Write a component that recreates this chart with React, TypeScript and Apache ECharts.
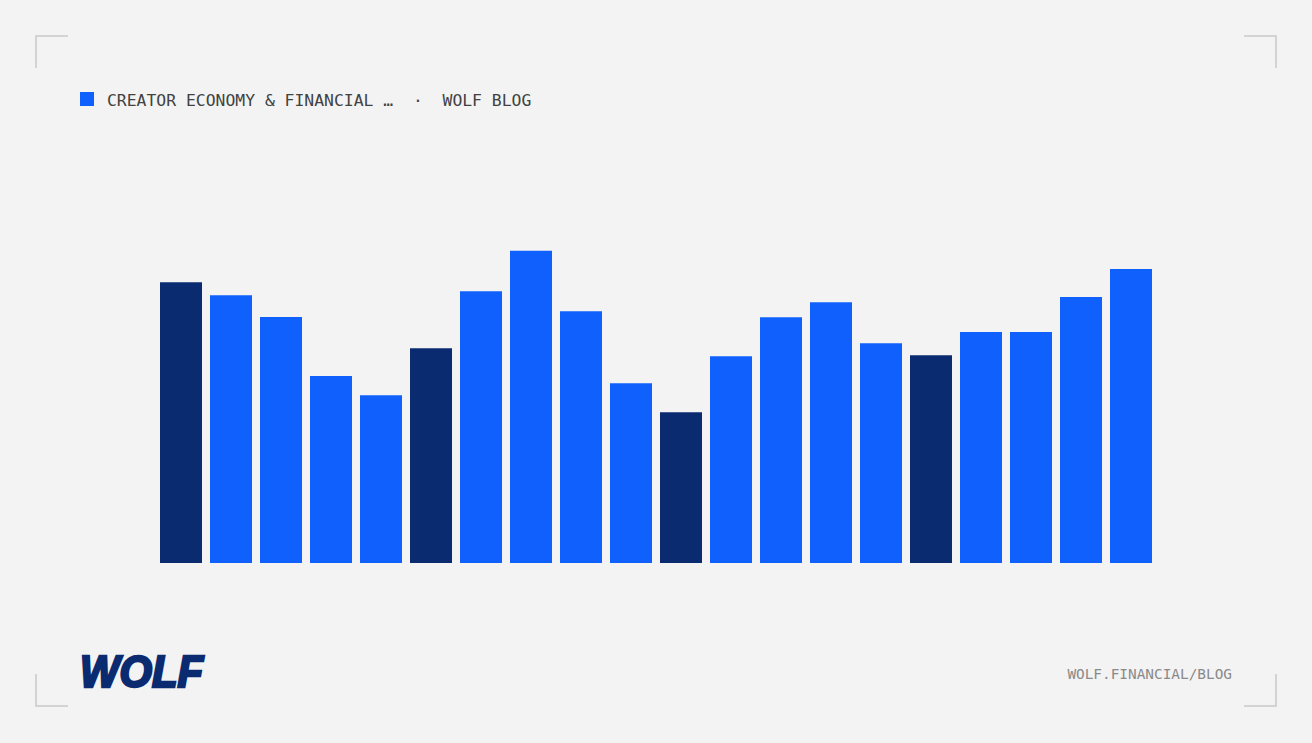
import React, { useEffect, useRef } from "react";
import * as echarts from "echarts";

const categories = [
  "1", "2", "3", "4", "5", "6", "7", "8", "9", "10",
  "11", "12", "13", "14", "15", "16", "17", "18", "19", "20",
];
const values = [
  87.7, 83.7, 76.9, 58.4, 52.4, 67.1, 84.9, 97.6, 78.7, 56.2,
  47.1, 64.6, 76.8, 81.5, 68.7, 64.9, 72.2, 72.2, 83.1, 91.9,
];
const highlighted = [0, 5, 10, 15];
const headerText = "CREATOR ECONOMY & FINANCIAL …  ·  WOLF BLOG";
const footerText = "WOLF.FINANCIAL/BLOG";
const logoText = "WOLF";

const BLUE = "#1060fe";
const NAVY = "#0b2b70";
const BG = "#f3f3f3";
const CORNER = "#d3d3d3";

export default function App() {
  const ref = useRef<HTMLDivElement>(null);
  useEffect(() => {
    if (!ref.current) return;
    const chart = echarts.init(ref.current, undefined, { renderer: "svg" });
    const mono = "'DejaVu Sans Mono', 'Liberation Mono', monospace";
    chart.setOption({
      animation: false,
      backgroundColor: BG,
      grid: { left: 156, right: 156, top: 243, bottom: 180 },
      xAxis: {
        type: "category",
        data: categories,
        show: false,
      },
      yAxis: {
        type: "value",
        min: 0,
        max: 100,
        show: false,
        splitLine: { show: false },
      },
      series: [
        {
          type: "bar",
          barWidth: 42,
          data: values.map((v, i) => ({
            value: v,
            itemStyle: { color: highlighted.includes(i) ? NAVY : BLUE },
          })),
        },
      ],
      graphic: [
        { type: "polyline", shape: { points: [[36, 68], [36, 36], [68, 36]] }, style: { stroke: CORNER, lineWidth: 2, fill: null } },
        { type: "polyline", shape: { points: [[1244, 36], [1276, 36], [1276, 68]] }, style: { stroke: CORNER, lineWidth: 2, fill: null } },
        { type: "polyline", shape: { points: [[36, 674], [36, 706], [68, 706]] }, style: { stroke: CORNER, lineWidth: 2, fill: null } },
        { type: "polyline", shape: { points: [[1244, 706], [1276, 706], [1276, 674]] }, style: { stroke: CORNER, lineWidth: 2, fill: null } },
        { type: "rect", shape: { x: 80, y: 92, width: 14, height: 14 }, style: { fill: BLUE } },
        {
          type: "text",
          x: 107,
          y: 100,
          style: {
            text: headerText,
            fontFamily: mono,
            fontSize: 16.4,
            fill: "#424242",
            textAlign: "left",
            textVerticalAlign: "middle",
          },
        },
        {
          type: "text",
          x: 1232,
          y: 674,
          style: {
            text: footerText,
            fontFamily: mono,
            fontSize: 14.4,
            fill: "#8a8a8a",
            textAlign: "right",
            textVerticalAlign: "middle",
          },
        },
        {
          type: "text",
          x: 80,
          y: 672,
          scaleX: 0.95,
          style: {
            text: logoText,
            fontFamily: "'Liberation Sans', Arial, sans-serif",
            fontWeight: 900,
            fontStyle: "italic",
            fontSize: 44,
            fill: NAVY,
            stroke: NAVY,
            lineWidth: 2.5,
            textAlign: "left",
            textVerticalAlign: "middle",
          },
        },
      ],
    });
    return () => chart.dispose();
  }, []);
  return (
    <div
      ref={ref}
      style={{ position: "absolute", left: 0, top: 0, width: 1312, height: 743 }}
    />
  );
}
